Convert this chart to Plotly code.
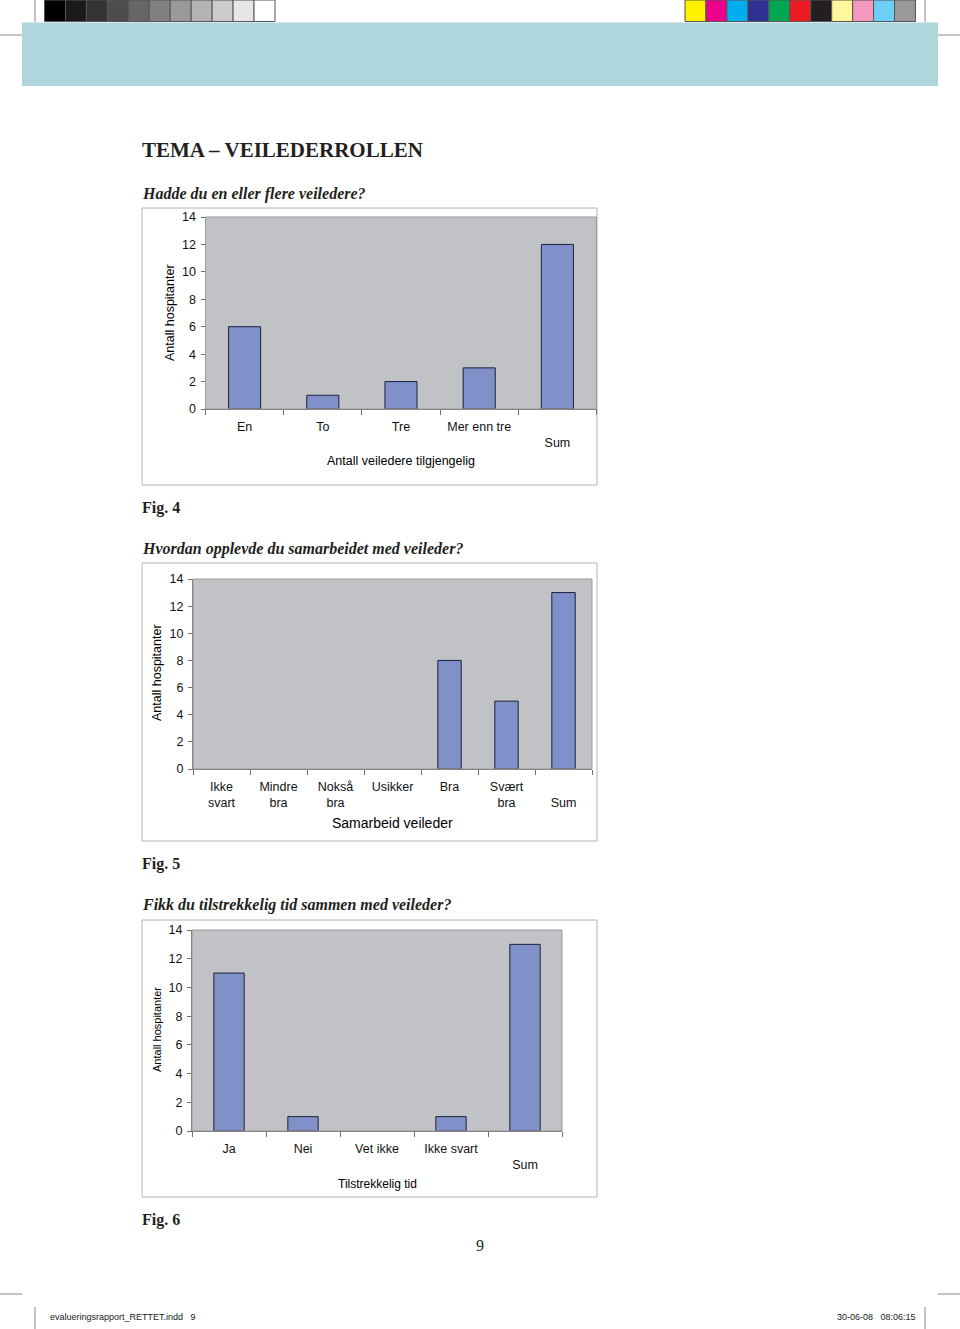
import plotly.graph_objects as go

W, H = 960, 1329

# ---------------- data ----------------
cats1 = ["En", "To", "Tre", "Mer enn tre", "Sum"]
vals1 = [6, 1, 2, 3, 12]
ticks1 = ["En", "To", "Tre", "Mer enn tre", " <br>Sum"]

cats2 = ["Ikke svart", "Mindre bra", "Nokså bra", "Usikker", "Bra", "Svært bra", "Sum"]
vals2 = [0, 0, 0, 0, 8, 5, 13]
ticks2 = ["Ikke<br>svart", "Mindre<br>bra", "Nokså<br>bra", "Usikker", "Bra", "Svært<br>bra", " <br>Sum"]

cats3 = ["Ja", "Nei", "Vet ikke", "Ikke svart", "Sum"]
vals3 = [11, 1, 0, 1, 13]
ticks3 = ["Ja", "Nei", "Vet ikke", "Ikke svart", " <br>Sum"]

ytick_vals = [0, 2, 4, 6, 8, 10, 12, 14]

grays = ["#000000", "#1a1a1a", "#333333", "#4d4d4d", "#666666", "#808080",
         "#999999", "#b3b3b3", "#cccccc", "#e6e6e6", "#ffffff"]
process = ["#fff200", "#ec008c", "#00aeef", "#2e3192", "#00a651", "#ed1c24",
           "#231f20", "#fff799", "#f49ac1", "#6dcff6", "#999999"]

# ---------------- helpers ----------------
def fx(x):
    return x / W

def fy(y):
    return 1 - y / H

SANS = "Liberation Sans, Arial, sans-serif"
SERIF = "Liberation Serif, Times New Roman, serif"
BAR = "#8090c9"
BAR_LINE = "#1c1f3a"
PLOTBG = "#c1c2c6"
AX = "#707070"

fig = go.Figure()

charts = [
    dict(c=cats1, v=vals1, t=ticks1, pa=(205.5, 596.5, 217, 409), fr=(142, 597, 208, 485),
         yt=(170, 313, 12.5), xt=(401, 461, 12.5, "Antall veiledere tilgjengelig"), w=0.41),
    dict(c=cats2, v=vals2, t=ticks2, pa=(193, 592, 579, 769), fr=(142, 597, 563, 841),
         yt=(157, 673, 12.5), xt=(392, 823, 14, "Samarbeid veileder"), w=0.41),
    dict(c=cats3, v=vals3, t=ticks3, pa=(192, 562, 930, 1131), fr=(142, 597, 920, 1197),
         yt=(157, 1030, 11), xt=(377, 1184, 12, "Tilstrekkelig tid"), w=0.41),
]

shapes = []
annotations = []

for i, ch in enumerate(charts, start=1):
    sfx = "" if i == 1 else str(i)
    l, r, t, b = ch["pa"]
    fig.add_trace(go.Bar(
        x=ch["c"], y=ch["v"], xaxis="x" + sfx, yaxis="y" + sfx,
        marker=dict(color=BAR, line=dict(color=BAR_LINE,
                                         width=[1 if v > 0 else 0 for v in ch["v"]])),
        width=ch["w"], showlegend=False, hoverinfo="x+y",
    ))
    fig.update_layout(**{
        "xaxis" + sfx: dict(
            domain=[fx(l), fx(r)], anchor="y" + sfx, type="category",
            tickmode="array", tickvals=ch["c"], ticktext=ch["t"],
            tickson="boundaries", ticks="outside", ticklen=5, tickcolor=AX,
            showline=True, linecolor=AX, linewidth=1, showgrid=False,
            tickfont=dict(family=SANS, size=12.5, color="#111"),
            ticklabelstandoff=6, fixedrange=True, automargin=False,
        ),
        "yaxis" + sfx: dict(
            domain=[fy(b), fy(t)], anchor="x" + sfx, range=[0, 14],
            tickmode="array", tickvals=ytick_vals,
            ticks="outside", ticklen=4, tickcolor=AX,
            showline=True, linecolor=AX, linewidth=1, showgrid=False, zeroline=False,
            tickfont=dict(family=SANS, size=12.5, color="#111"),
            ticklabelstandoff=2, fixedrange=True, automargin=False,
        ),
    })
    shapes.append(dict(type="rect", xref="paper", yref="paper",
                       x0=fx(l), x1=fx(r), y0=fy(b), y1=fy(t),
                       line=dict(color="#9a9a9a", width=1), layer="above"))
    fl, frr, ft, fb = ch["fr"]
    shapes.append(dict(type="rect", xref="paper", yref="paper",
                       x0=fx(fl), x1=fx(frr), y0=fy(fb), y1=fy(ft),
                       line=dict(color="#b4b4b4", width=1), layer="below"))
    yx, yy, ys = ch["yt"]
    annotations.append(dict(text="Antall hospitanter", x=fx(yx), y=fy(yy), xref="paper", yref="paper",
                            showarrow=False, textangle=-90, xanchor="center", yanchor="middle",
                            font=dict(family=SANS, size=ys, color="#000")))
    xx, xy, xs, xtxt = ch["xt"]
    annotations.append(dict(text=xtxt, x=fx(xx), y=fy(xy), xref="paper", yref="paper",
                            showarrow=False, xanchor="center", yanchor="middle",
                            font=dict(family=SANS, size=xs, color="#000")))

# ---------------- page decorations ----------------
shapes.append(dict(type="rect", xref="paper", yref="paper", x0=fx(22), x1=fx(938),
                   y0=fy(86), y1=fy(22.5), fillcolor="#aed6dc", line=dict(width=0), layer="below"))
gw = (275 - 44.5) / len(grays)
for k, c in enumerate(grays):
    shapes.append(dict(type="rect", xref="paper", yref="paper",
                       x0=fx(44.5 + k * gw), x1=fx(44.5 + (k + 1) * gw), y0=fy(21.5), y1=fy(0),
                       fillcolor=c, line=dict(color="#555", width=1), layer="below"))
pw = (915.5 - 685) / len(process)
for k, c in enumerate(process):
    shapes.append(dict(type="rect", xref="paper", yref="paper",
                       x0=fx(685 + k * pw), x1=fx(685 + (k + 1) * pw), y0=fy(21.5), y1=fy(0),
                       fillcolor=c, line=dict(color="#555", width=1), layer="below"))
for (x0, y0, x1, y1) in [(35, 0, 35, 22), (925, 0, 925, 22), (0, 35, 22, 35), (938, 35, 960, 35),
                         (0, 1294, 22, 1294), (938, 1294, 960, 1294),
                         (35, 1307, 35, 1329), (925, 1307, 925, 1329)]:
    shapes.append(dict(type="line", xref="paper", yref="paper", x0=fx(x0), x1=fx(x1),
                       y0=fy(y0), y1=fy(y1), line=dict(color="#8a8a8a", width=1), layer="below"))

def text(t, x, y, size, family=SERIF, xanchor="left", color="#231f20"):
    annotations.append(dict(text=t, x=fx(x), y=fy(y), xref="paper", yref="paper",
                            showarrow=False, xanchor=xanchor, yanchor="middle",
                            font=dict(family=family, size=size, color=color)))

text("<b>TEMA – VEILEDERROLLEN</b>", 140, 150, 21)
text("<b><i>Hadde du en eller flere veiledere?</i></b>", 140, 194, 16)
text("<b>Fig. 4</b>", 140, 508, 16)
text("<b><i>Hvordan opplevde du samarbeidet med veileder?</i></b>", 140, 549, 16)
text("<b>Fig. 5</b>", 140, 864, 16)
text("<b><i>Fikk du tilstrekkelig tid sammen med veileder?</i></b>", 140, 905, 16)
text("<b>Fig. 6</b>", 140, 1220, 16)
text("9", 480, 1245, 16, xanchor="center")
text("evalueringsrapport_RETTET.indd   9", 48, 1317, 9,
     family="Liberation Sans Narrow, Liberation Sans, Arial", color="#222")
text("30-06-08   08:06:15", 918, 1317, 9,
     family="Liberation Sans Narrow, Liberation Sans, Arial", xanchor="right", color="#222")

fig.update_layout(
    width=W, height=H, autosize=False,
    margin=dict(l=0, r=0, t=0, b=0, pad=0, autoexpand=False),
    paper_bgcolor="white", plot_bgcolor=PLOTBG,
    shapes=shapes, annotations=annotations,
    bargap=0.59, showlegend=False,
)

fig.write_html("out.html", config={"displayModeBar": False},
               post_script="document.body.style.margin='0';document.body.style.overflow='hidden';")
